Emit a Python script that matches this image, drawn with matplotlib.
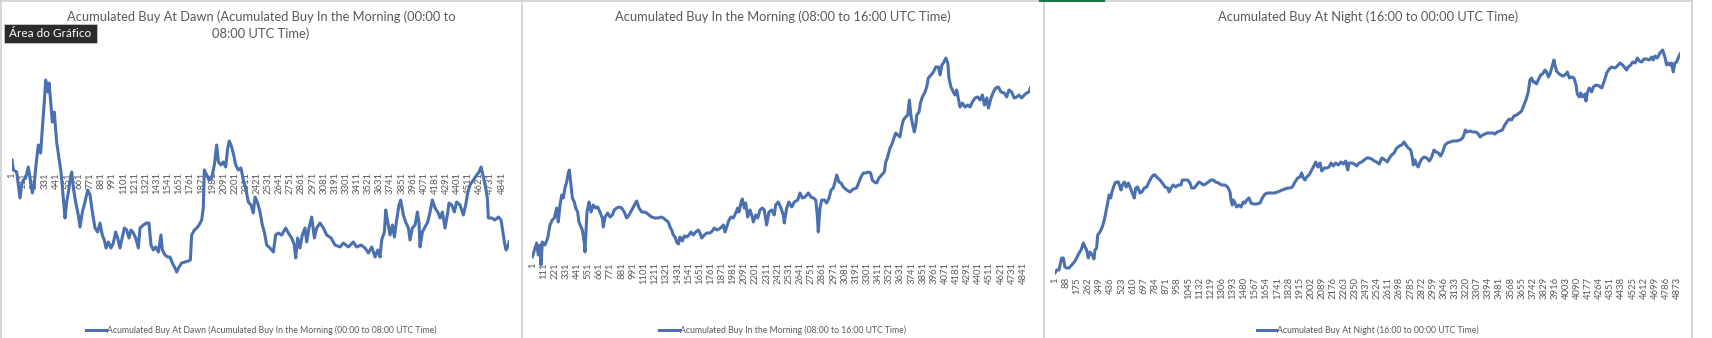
import matplotlib
matplotlib.use('Agg')
import matplotlib.pyplot as plt
from matplotlib.lines import Line2D
from matplotlib.patches import Rectangle

plt.rcParams['font.family'] = ['Lato', 'DejaVu Sans']

# (row index, accumulated buy), zero = category axis
dawn_points = [
    (1, 10), (14, 0), (47, -2), (80, -28), (96, -15), (113, -10), (136, -8), (162, 3), (179, -8), (202, -23),
    (222, -13), (235, 2), (261, 25), (284, 17), (301, 42), (320, 68), (334, 90), (353, 78), (367, 87), (386, 65),
    (399, 48), (419, 58), (442, 28), (465, 12), (485, -2), (508, -28), (525, -48), (541, -32), (558, -22), (574, -10),
    (591, -2), (607, -18), (630, -32), (656, -45), (673, -57), (696, -42), (722, -32), (749, -20), (772, -25), (795, -42),
    (821, -58), (847, -62), (870, -53), (893, -65), (913, -70), (930, -78), (953, -72), (979, -78), (1002, -73), (1025, -62),
    (1045, -68), (1068, -78), (1091, -67), (1111, -58), (1134, -60), (1157, -68), (1177, -60), (1200, -63), (1223, -68), (1249, -78),
    (1266, -58), (1299, -55), (1331, -53), (1354, -53), (1374, -75), (1397, -80), (1420, -77), (1447, -82), (1473, -65), (1486, -80),
    (1513, -85), (1539, -87), (1562, -87), (1585, -93), (1611, -98), (1628, -102), (1651, -97), (1677, -93), (1710, -92), (1743, -91),
    (1763, -90), (1776, -65), (1803, -60), (1826, -58), (1849, -55), (1875, -50), (1891, -38), (1901, 0), (1924, -5), (1947, -10),
    (1974, -8), (2000, 5), (2023, 25), (2040, 8), (2066, 5), (2089, 8), (2112, 3), (2132, 22), (2148, 29), (2171, 23),
    (2191, 15), (2211, 5), (2237, 0), (2263, 2), (2286, -10), (2309, -18), (2336, -32), (2362, -35), (2385, -43), (2402, -27),
    (2428, -33), (2451, -42), (2474, -55), (2494, -62), (2517, -75), (2550, -78), (2583, -82), (2606, -65), (2632, -63), (2665, -65),
    (2705, -58), (2731, -63), (2764, -68), (2790, -75), (2804, -88), (2823, -68), (2846, -78), (2869, -65), (2896, -58), (2912, -72),
    (2935, -58), (2962, -47), (2988, -68), (3011, -58), (3044, -53), (3077, -58), (3110, -65), (3153, -68), (3192, -75), (3242, -77),
    (3275, -73), (3324, -77), (3373, -72), (3406, -77), (3449, -75), (3489, -78), (3522, -83), (3555, -77), (3588, -87), (3614, -80),
    (3637, -87), (3653, -70), (3680, -62), (3693, -40), (3713, -52), (3736, -65), (3759, -55), (3779, -67), (3801, -50), (3824, -35),
    (3841, -30), (3867, -45), (3890, -52), (3917, -58), (3933, -70), (3956, -58), (3983, -55), (4006, -42), (4022, -53), (4032, -77),
    (4055, -62), (4081, -57), (4108, -52), (4131, -42), (4154, -30), (4180, -38), (4207, -42), (4230, -48), (4253, -42), (4279, -58),
    (4305, -43), (4318, -33), (4345, -35), (4371, -42), (4394, -32), (4427, -35), (4460, -45), (4483, -35), (4503, -23), (4526, -15),
    (4559, -10), (4592, -5), (4615, -2), (4635, 3), (4658, -7), (4681, -18), (4697, -28), (4707, -48), (4740, -48), (4773, -50),
    (4806, -47), (4832, -50), (4845, -58), (4865, -72), (4882, -80), (4898, -77), (4911, -72),
]

morning_points = [
    (1, 3), (28, 12), (44, 17), (60, 5), (77, 15), (87, -5), (100, 18), (126, 15), (153, 22), (175, 35),
    (198, 40), (218, 42), (241, 52), (257, 38), (274, 55), (291, 65), (307, 62), (323, 72), (340, 78), (356, 87),
    (366, 90), (382, 75), (396, 62), (415, 58), (429, 52), (448, 48), (461, 38), (481, 33), (494, 30), (514, 17),
    (520, 8), (530, 28), (540, 48), (560, 58), (580, 48), (602, 55), (626, 52), (646, 53), (668, 48), (691, 42),
    (701, 33), (718, 43), (744, 47), (767, 43), (790, 45), (809, 50), (833, 52), (856, 53), (882, 52), (908, 48),
    (931, 42), (954, 45), (981, 50), (1007, 55), (1030, 59), (1053, 52), (1080, 48), (1105, 48), (1129, 47), (1151, 45),
    (1178, 43), (1210, 42), (1243, 42), (1270, 43), (1292, 42), (1316, 40), (1342, 38), (1358, 33), (1375, 30), (1391, 25),
    (1408, 23), (1424, 18), (1441, 16), (1457, 23), (1480, 19), (1500, 24), (1523, 23), (1545, 25), (1565, 28), (1588, 25),
    (1612, 28), (1638, 30), (1654, 27), (1671, 22), (1697, 25), (1720, 27), (1753, 27), (1776, 29), (1795, 32), (1819, 30),
    (1842, 31), (1868, 33), (1884, 35), (1901, 28), (1917, 33), (1940, 40), (1960, 43), (1982, 42), (2006, 47), (2026, 52),
    (2038, 48), (2058, 57), (2071, 61), (2091, 52), (2104, 57), (2124, 43), (2147, 50), (2164, 45), (2180, 38), (2203, 45),
    (2223, 42), (2245, 50), (2268, 52), (2288, 50), (2311, 35), (2334, 48), (2360, 50), (2386, 45), (2400, 55), (2426, 58),
    (2452, 52), (2475, 45), (2485, 37), (2508, 52), (2531, 58), (2558, 53), (2584, 58), (2617, 60), (2640, 67), (2663, 62),
    (2689, 63), (2722, 67), (2748, 63), (2771, 62), (2795, 60), (2810, 45), (2820, 28), (2837, 52), (2854, 60), (2880, 60),
    (2903, 57), (2926, 62), (2946, 70), (2968, 72), (2985, 78), (3002, 85), (3024, 78), (3044, 77), (3067, 73), (3100, 70),
    (3133, 68), (3165, 71), (3198, 72), (3221, 78), (3241, 83), (3264, 87), (3287, 87), (3313, 88), (3336, 87), (3352, 80),
    (3372, 78), (3395, 77), (3418, 82), (3445, 85), (3471, 88), (3485, 98), (3504, 103), (3527, 112), (3543, 115), (3560, 120),
    (3583, 127), (3603, 125), (3625, 123), (3642, 133), (3659, 140), (3682, 143), (3702, 145), (3718, 160), (3735, 143), (3751, 135),
    (3767, 128), (3781, 135), (3791, 145), (3813, 148), (3827, 157), (3846, 163), (3872, 168), (3889, 173), (3905, 182), (3931, 185),
    (3955, 188), (3978, 193), (4004, 193), (4021, 185), (4038, 195), (4054, 197), (4078, 202), (4097, 197), (4108, 182), (4128, 173),
    (4151, 168), (4168, 165), (4184, 170), (4200, 162), (4217, 153), (4240, 157), (4266, 153), (4293, 155), (4316, 153), (4339, 158),
    (4365, 162), (4392, 163), (4415, 160), (4438, 165), (4458, 155), (4481, 162), (4497, 152), (4523, 162), (4546, 168), (4569, 172),
    (4595, 173), (4621, 168), (4654, 167), (4677, 163), (4700, 170), (4726, 168), (4752, 162), (4776, 163), (4799, 165), (4825, 162),
    (4851, 165), (4874, 167), (4897, 168), (4910, 172),
]

night_points = [
    (1, 2), (14, 5), (32, 5), (53, 17), (66, 17), (79, 8), (92, 7), (111, 7), (132, 10), (152, 13),
    (171, 17), (189, 22), (205, 25), (223, 32), (236, 28), (249, 25), (262, 17), (275, 23), (293, 20), (306, 16),
    (314, 25), (327, 27), (335, 40), (353, 43), (371, 48), (387, 55), (398, 62), (413, 72), (424, 80), (437, 77),
    (445, 82), (457, 87), (471, 92), (484, 93), (497, 93), (518, 85), (528, 90), (544, 93), (559, 88), (575, 92),
    (588, 88), (606, 82), (622, 77), (633, 87), (648, 88), (666, 82), (680, 83), (700, 87), (719, 88), (737, 93),
    (753, 97), (771, 100), (784, 100), (805, 97), (823, 95), (841, 92), (862, 88), (883, 87), (894, 83), (909, 87),
    (927, 90), (946, 88), (966, 90), (987, 90), (998, 95), (1019, 95), (1040, 95), (1058, 92), (1071, 87), (1092, 87),
    (1110, 90), (1128, 93), (1144, 92), (1162, 90), (1181, 91), (1201, 93), (1222, 95), (1240, 95), (1259, 93), (1280, 92),
    (1306, 90), (1332, 90), (1353, 88), (1371, 83), (1379, 75), (1389, 70), (1397, 75), (1410, 72), (1423, 68), (1442, 70),
    (1457, 68), (1475, 73), (1488, 72), (1502, 75), (1520, 77), (1535, 72), (1554, 71), (1580, 71), (1606, 72), (1624, 77),
    (1645, 81), (1666, 82), (1692, 82), (1718, 82), (1744, 83), (1762, 84), (1780, 85), (1802, 86), (1823, 87), (1841, 87),
    (1859, 88), (1880, 93), (1901, 97), (1919, 98), (1932, 102), (1945, 97), (1958, 95), (1971, 98), (1990, 100), (2011, 105),
    (2023, 108), (2042, 113), (2058, 108), (2076, 112), (2089, 104), (2109, 107), (2128, 107), (2146, 108), (2162, 112), (2180, 109),
    (2198, 112), (2219, 110), (2240, 113), (2258, 111), (2277, 114), (2293, 105), (2303, 112), (2324, 112), (2344, 111), (2363, 109),
    (2381, 112), (2402, 113), (2422, 115), (2441, 117), (2459, 117), (2480, 116), (2501, 114), (2519, 113), (2540, 111), (2559, 117),
    (2585, 115), (2603, 113), (2619, 117), (2637, 120), (2655, 122), (2676, 127), (2697, 129), (2715, 130), (2733, 133), (2749, 130),
    (2767, 127), (2786, 125), (2798, 118), (2806, 110), (2819, 115), (2832, 110), (2845, 108), (2859, 113), (2872, 116), (2890, 118),
    (2911, 117), (2932, 114), (2950, 118), (2968, 125), (2984, 123), (3002, 122), (3020, 119), (3036, 123), (3054, 130), (3072, 132),
    (3093, 133), (3119, 134), (3145, 134), (3171, 135), (3192, 137), (3205, 141), (3213, 145), (3228, 143), (3249, 144), (3270, 143),
    (3297, 143), (3315, 141), (3328, 138), (3349, 140), (3367, 141), (3385, 142), (3406, 142), (3427, 142), (3445, 141), (3463, 143),
    (3485, 144), (3503, 145), (3518, 149), (3537, 153), (3557, 156), (3576, 155), (3594, 159), (3615, 160), (3636, 162), (3654, 164),
    (3672, 170), (3688, 175), (3706, 183), (3719, 195), (3732, 197), (3745, 193), (3758, 193), (3771, 191), (3784, 195), (3803, 200),
    (3818, 201), (3837, 205), (3850, 203), (3863, 198), (3876, 201), (3889, 207), (3907, 215), (3915, 210), (3928, 204), (3941, 202),
    (3960, 200), (3980, 199), (4002, 201), (4012, 203), (4028, 197), (4046, 198), (4064, 197), (4080, 190), (4090, 181), (4106, 178),
    (4117, 182), (4132, 178), (4150, 181), (4158, 174), (4168, 182), (4184, 187), (4203, 183), (4215, 188), (4236, 190), (4262, 189),
    (4281, 187), (4293, 191), (4309, 197), (4320, 202), (4340, 206), (4359, 208), (4385, 207), (4403, 209), (4424, 212), (4445, 210),
    (4463, 207), (4476, 205), (4489, 208), (4508, 210), (4524, 213), (4542, 212), (4560, 217), (4576, 214), (4594, 213), (4612, 216),
    (4633, 216), (4654, 215), (4672, 218), (4685, 215), (4698, 219), (4716, 217), (4737, 222), (4758, 225), (4776, 218), (4789, 210),
    (4802, 212), (4815, 210), (4828, 212), (4841, 203), (4854, 212), (4867, 213), (4880, 217), (4894, 221),
]

# each title is wrapped the way the chart wraps it
titles = [
    ["Acumulated Buy At Dawn (Acumulated Buy In the Morning (00:00 to",
     "08:00 UTC Time)"],
    ["Acumulated Buy In the Morning (08:00 to 16:00 UTC Time)"],
    ["Acumulated Buy At Night (16:00 to 00:00 UTC Time)"],
]
legend_labels = [
    "Acumulated Buy At Dawn (Acumulated Buy In the Morning (00:00 to 08:00 UTC Time)",
    "Acumulated Buy In the Morning (08:00 to 16:00 UTC Time)",
    "Acumulated Buy At Night (16:00 to 00:00 UTC Time)",
]
tick_steps = [110, 110, 87]

W, H = 1712, 338
BLUE = '#4a70b0'
GREY = '#595959'

# layout in pixels: plot box (left, top, width, height), chart frame (left, right)
layout = [
    dict(box=(12, 60, 497, 230), ylim=(-120, 110), frame=(0.75, 521.5)),
    dict(box=(532.3, 50, 498, 220), ylim=(-10, 210), frame=(521.5, 1043.5)),
    dict(box=(1055, 45, 625, 240), ylim=(-10, 230), frame=(1043.5, 1692)),
]
TITLE_Y = 16.5
TITLE_LEADING = 17

fig = plt.figure(figsize=(W / 100, H / 100), dpi=100)
fig.patch.set_facecolor('white')


def px_axes(x0, y0, w, h):
    return fig.add_axes([x0 / W, 1 - (y0 + h) / H, w / W, h / H])


series = [dawn_points, morning_points, night_points]
for points, title, label, step, lay in zip(series, titles, legend_labels,
                                           tick_steps, layout):
    idx, val = zip(*points)
    ax = px_axes(*lay['box'])
    ax.set_facecolor('none')
    line, = ax.plot(idx, val, color=BLUE, lw=2.2, solid_joinstyle='round')
    ax.set_xlim(1, idx[-1])
    ax.set_ylim(*lay['ylim'])
    ax.set_xticks(range(1, idx[-1] + 1, step))
    ax.set_xticklabels([str(t) for t in range(1, idx[-1] + 1, step)])
    ax.set_yticks([])
    for s in ['top', 'left', 'right']:
        ax.spines[s].set_visible(False)
    ax.spines['bottom'].set_position(('data', 0))
    ax.spines['bottom'].set_color('none')
    ax.tick_params(axis='x', length=0, pad=1.5, labelsize=6.8,
                   labelcolor=GREY, labelrotation=90)

    cx = (lay['frame'][0] + lay['frame'][1]) / 2
    for i, text in enumerate(title):
        fig.text(cx / W, 1 - (TITLE_Y + i * TITLE_LEADING) / H, text,
                 ha='center', va='center', fontsize=9.3, color=GREY)
    fig.legend(handles=[line], labels=[label], loc='center',
               bbox_to_anchor=(cx / W, 1 - 330 / H), frameon=False,
               fontsize=6.2, handlelength=2.3, handletextpad=0.1,
               labelcolor=GREY)

# chart frames
for x in [0.75, 521.5, 1043.5, 1692]:
    fig.add_artist(Line2D([x / W, x / W], [0, 1], color='#cfcfcf', lw=1.2))
fig.add_artist(Line2D([0, 1692 / W], [1 - 0.75 / H] * 2, color='#cfcfcf', lw=1.2))
fig.add_artist(Line2D([1040 / W, 1104 / W], [1 - 0.75 / H] * 2, color='#217346', lw=1.5))

# Excel tooltip
fig.add_artist(Rectangle((4 / W, 1 - 43 / H), 93 / W, 19 / H,
                         transform=fig.transFigure, fc='#2b2b2b', ec='#c8c8c8', lw=0.6))
fig.text(50.5 / W, 1 - 33.5 / H, 'Área do Gráfico', ha='center', va='center',
         fontsize=8.5, color='white')

fig.savefig('out.png', dpi=100)
